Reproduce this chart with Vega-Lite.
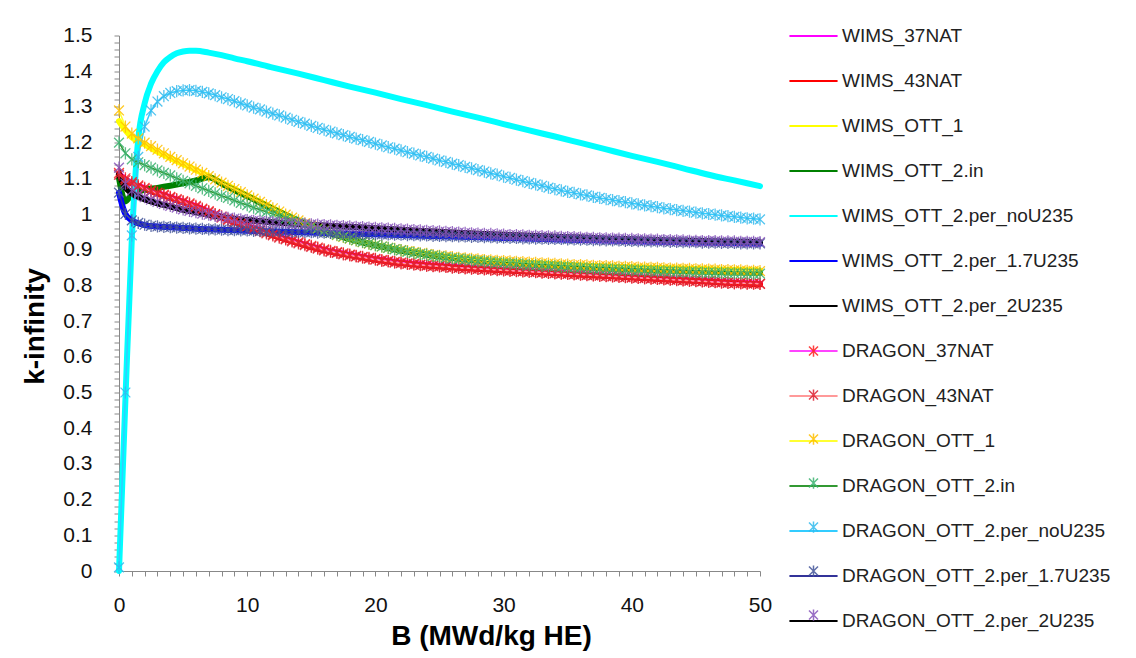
{
"$schema": "https://vega.github.io/schema/vega-lite/v6.json",
"width": 641,
"height": 535.5,
"autosize": {"type": "none"},
"padding": {"left": 119, "top": 35.5, "right": 376, "bottom": 87},
"background": "white",
"config": {"view": {"stroke": null}, "font": "Liberation Sans"},
"datasets": {
"names": [
{"s":"W37","name":"WIMS_37NAT","mk":"WIMS_37NAT"},
{"s":"W43","name":"WIMS_43NAT","mk":"WIMS_43NAT"},
{"s":"WY","name":"WIMS_OTT_1","mk":"WIMS_OTT_1"},
{"s":"WG","name":"WIMS_OTT_2.in","mk":"WIMS_OTT_2.in"},
{"s":"WC","name":"WIMS_OTT_2.per_noU235","mk":"WIMS_OTT_2.per_noU235"},
{"s":"WB","name":"WIMS_OTT_2.per_1.7U235","mk":"WIMS_OTT_2.per_1.7U235"},
{"s":"WK","name":"WIMS_OTT_2.per_2U235","mk":"WIMS_OTT_2.per_2U235"},
{"s":"D37","name":"DRAGON_37NAT","mk":"DRAGON_37NAT"},
{"s":"D43","name":"DRAGON_43NAT","mk":"DRAGON_43NAT"},
{"s":"DY","name":"DRAGON_OTT_1","mk":"DRAGON_OTT_1"},
{"s":"DG","name":"DRAGON_OTT_2.in","mk":"DRAGON_OTT_2.in"},
{"s":"DC","name":"DRAGON_OTT_2.per_noU235","mk":"DRAGON_OTT_2.per_noU235"},
{"s":"DB","name":"DRAGON_OTT_2.per_1.7U235","mk":"DRAGON_OTT_2.per_1.7U235"},
{"s":"DP","name":"DRAGON_OTT_2.per_2U235","mk":"DRAGON_OTT_2.per_2U235"}
],
"d": [
{"s":"W37","x":0,"y":1.112},{"s":"W37","x":0.5,"y":1.097},{"s":"W37","x":1,"y":1.087},{"s":"W37","x":2,"y":1.072},{"s":"W37","x":3,"y":1.059},{"s":"W37","x":4,"y":1.047},{"s":"W37","x":5,"y":1.035},{"s":"W37","x":6,"y":1.022},{"s":"W37","x":7,"y":1.007},{"s":"W37","x":8,"y":0.992},{"s":"W37","x":9,"y":0.979},{"s":"W37","x":10,"y":0.967},{"s":"W37","x":12,"y":0.942},{"s":"W37","x":14,"y":0.92},{"s":"W37","x":16,"y":0.9},{"s":"W37","x":18,"y":0.886},{"s":"W37","x":20,"y":0.874},{"s":"W37","x":22,"y":0.864},{"s":"W37","x":24,"y":0.857},{"s":"W37","x":26,"y":0.852},{"s":"W37","x":28,"y":0.848},{"s":"W37","x":30,"y":0.844},{"s":"W37","x":32,"y":0.84},{"s":"W37","x":34,"y":0.836},{"s":"W37","x":36,"y":0.832},{"s":"W37","x":38,"y":0.828},{"s":"W37","x":40,"y":0.824},{"s":"W37","x":42,"y":0.82},{"s":"W37","x":44,"y":0.816},{"s":"W37","x":46,"y":0.812},{"s":"W37","x":48,"y":0.808},{"s":"W37","x":50,"y":0.805},
{"s":"W43","x":0,"y":1.11},{"s":"W43","x":0.5,"y":1.095},{"s":"W43","x":1,"y":1.085},{"s":"W43","x":2,"y":1.07},{"s":"W43","x":3,"y":1.057},{"s":"W43","x":4,"y":1.045},{"s":"W43","x":5,"y":1.033},{"s":"W43","x":6,"y":1.02},{"s":"W43","x":7,"y":1.005},{"s":"W43","x":8,"y":0.99},{"s":"W43","x":9,"y":0.977},{"s":"W43","x":10,"y":0.965},{"s":"W43","x":12,"y":0.94},{"s":"W43","x":14,"y":0.918},{"s":"W43","x":16,"y":0.898},{"s":"W43","x":18,"y":0.884},{"s":"W43","x":20,"y":0.872},{"s":"W43","x":22,"y":0.862},{"s":"W43","x":24,"y":0.855},{"s":"W43","x":26,"y":0.85},{"s":"W43","x":28,"y":0.846},{"s":"W43","x":30,"y":0.842},{"s":"W43","x":32,"y":0.838},{"s":"W43","x":34,"y":0.834},{"s":"W43","x":36,"y":0.83},{"s":"W43","x":38,"y":0.826},{"s":"W43","x":40,"y":0.822},{"s":"W43","x":42,"y":0.818},{"s":"W43","x":44,"y":0.814},{"s":"W43","x":46,"y":0.81},{"s":"W43","x":48,"y":0.806},{"s":"W43","x":50,"y":0.803},
{"s":"WY","x":0,"y":1.26},{"s":"WY","x":0.5,"y":1.235},{"s":"WY","x":1,"y":1.215},{"s":"WY","x":2,"y":1.195},{"s":"WY","x":3,"y":1.175},{"s":"WY","x":4,"y":1.157},{"s":"WY","x":5,"y":1.14},{"s":"WY","x":6,"y":1.123},{"s":"WY","x":7,"y":1.106},{"s":"WY","x":8,"y":1.088},{"s":"WY","x":9,"y":1.07},{"s":"WY","x":10,"y":1.052},{"s":"WY","x":12,"y":1.016},{"s":"WY","x":14,"y":0.982},{"s":"WY","x":16,"y":0.953},{"s":"WY","x":18,"y":0.931},{"s":"WY","x":20,"y":0.913},{"s":"WY","x":22,"y":0.899},{"s":"WY","x":24,"y":0.888},{"s":"WY","x":26,"y":0.879},{"s":"WY","x":28,"y":0.872},{"s":"WY","x":30,"y":0.867},{"s":"WY","x":32,"y":0.863},{"s":"WY","x":34,"y":0.859},{"s":"WY","x":36,"y":0.856},{"s":"WY","x":38,"y":0.853},{"s":"WY","x":40,"y":0.851},{"s":"WY","x":42,"y":0.849},{"s":"WY","x":44,"y":0.847},{"s":"WY","x":46,"y":0.845},{"s":"WY","x":48,"y":0.843},{"s":"WY","x":50,"y":0.842},
{"s":"WG","x":0,"y":1.1},{"s":"WG","x":0.5,"y":1.035},{"s":"WG","x":1,"y":1.055},{"s":"WG","x":1.5,"y":1.062},{"s":"WG","x":2,"y":1.068},{"s":"WG","x":3,"y":1.073},{"s":"WG","x":4,"y":1.079},{"s":"WG","x":5,"y":1.086},{"s":"WG","x":6,"y":1.094},{"s":"WG","x":7,"y":1.103},{"s":"WG","x":8,"y":1.085},{"s":"WG","x":9,"y":1.067},{"s":"WG","x":10,"y":1.05},{"s":"WG","x":12,"y":1.014},{"s":"WG","x":14,"y":0.981},{"s":"WG","x":16,"y":0.952},{"s":"WG","x":18,"y":0.93},{"s":"WG","x":20,"y":0.912},{"s":"WG","x":22,"y":0.897},{"s":"WG","x":24,"y":0.886},{"s":"WG","x":26,"y":0.877},{"s":"WG","x":28,"y":0.869},{"s":"WG","x":30,"y":0.863},{"s":"WG","x":32,"y":0.858},{"s":"WG","x":34,"y":0.854},{"s":"WG","x":36,"y":0.85},{"s":"WG","x":38,"y":0.847},{"s":"WG","x":40,"y":0.845},{"s":"WG","x":42,"y":0.842},{"s":"WG","x":44,"y":0.84},{"s":"WG","x":46,"y":0.838},{"s":"WG","x":48,"y":0.836},{"s":"WG","x":50,"y":0.835},
{"s":"WC","x":0,"y":0},{"s":"WC","x":0.5,"y":0.48},{"s":"WC","x":1,"y":0.93},{"s":"WC","x":1.5,"y":1.21},{"s":"WC","x":2,"y":1.31},{"s":"WC","x":2.5,"y":1.365},{"s":"WC","x":3,"y":1.4},{"s":"WC","x":3.5,"y":1.425},{"s":"WC","x":4,"y":1.44},{"s":"WC","x":4.5,"y":1.45},{"s":"WC","x":5,"y":1.455},{"s":"WC","x":5.5,"y":1.457},{"s":"WC","x":6,"y":1.457},{"s":"WC","x":7,"y":1.452},{"s":"WC","x":8,"y":1.445},{"s":"WC","x":9,"y":1.436},{"s":"WC","x":10,"y":1.428},{"s":"WC","x":12,"y":1.41},{"s":"WC","x":14,"y":1.393},{"s":"WC","x":16,"y":1.375},{"s":"WC","x":18,"y":1.357},{"s":"WC","x":20,"y":1.34},{"s":"WC","x":22,"y":1.322},{"s":"WC","x":24,"y":1.305},{"s":"WC","x":26,"y":1.287},{"s":"WC","x":28,"y":1.27},{"s":"WC","x":30,"y":1.252},{"s":"WC","x":32,"y":1.234},{"s":"WC","x":34,"y":1.217},{"s":"WC","x":36,"y":1.199},{"s":"WC","x":38,"y":1.181},{"s":"WC","x":40,"y":1.163},{"s":"WC","x":42,"y":1.146},{"s":"WC","x":44,"y":1.128},{"s":"WC","x":46,"y":1.11},{"s":"WC","x":48,"y":1.094},{"s":"WC","x":50,"y":1.078},
{"s":"WB","x":0,"y":1.06},{"s":"WB","x":0.25,"y":1.025},{"s":"WB","x":0.5,"y":1.0},{"s":"WB","x":1,"y":0.982},{"s":"WB","x":1.5,"y":0.974},{"s":"WB","x":2,"y":0.969},{"s":"WB","x":3,"y":0.965},{"s":"WB","x":4,"y":0.963},{"s":"WB","x":5,"y":0.961},{"s":"WB","x":6,"y":0.959},{"s":"WB","x":7,"y":0.957},{"s":"WB","x":8,"y":0.956},{"s":"WB","x":10,"y":0.953},{"s":"WB","x":12,"y":0.951},{"s":"WB","x":14,"y":0.949},{"s":"WB","x":16,"y":0.947},{"s":"WB","x":18,"y":0.945},{"s":"WB","x":20,"y":0.943},{"s":"WB","x":25,"y":0.938},{"s":"WB","x":30,"y":0.933},{"s":"WB","x":35,"y":0.928},{"s":"WB","x":40,"y":0.924},{"s":"WB","x":45,"y":0.92},{"s":"WB","x":50,"y":0.917},
{"s":"WK","x":0,"y":1.11},{"s":"WK","x":0.5,"y":1.075},{"s":"WK","x":1,"y":1.058},{"s":"WK","x":1.5,"y":1.048},{"s":"WK","x":2,"y":1.041},{"s":"WK","x":3,"y":1.03},{"s":"WK","x":4,"y":1.021},{"s":"WK","x":5,"y":1.012},{"s":"WK","x":6,"y":1.005},{"s":"WK","x":7,"y":0.998},{"s":"WK","x":8,"y":0.992},{"s":"WK","x":9,"y":0.987},{"s":"WK","x":10,"y":0.983},{"s":"WK","x":12,"y":0.977},{"s":"WK","x":14,"y":0.972},{"s":"WK","x":16,"y":0.968},{"s":"WK","x":18,"y":0.964},{"s":"WK","x":20,"y":0.96},{"s":"WK","x":22,"y":0.956},{"s":"WK","x":24,"y":0.952},{"s":"WK","x":26,"y":0.948},{"s":"WK","x":28,"y":0.945},{"s":"WK","x":30,"y":0.942},{"s":"WK","x":32,"y":0.939},{"s":"WK","x":34,"y":0.936},{"s":"WK","x":36,"y":0.934},{"s":"WK","x":38,"y":0.931},{"s":"WK","x":40,"y":0.929},{"s":"WK","x":42,"y":0.927},{"s":"WK","x":44,"y":0.925},{"s":"WK","x":46,"y":0.924},{"s":"WK","x":48,"y":0.922},{"s":"WK","x":50,"y":0.921},
{"s":"D37","x":0,"y":1.115},{"s":"D37","x":0.5,"y":1.1},{"s":"D37","x":1,"y":1.089},{"s":"D37","x":1.5,"y":1.08},{"s":"D37","x":2,"y":1.073},{"s":"D37","x":2.5,"y":1.066},{"s":"D37","x":3,"y":1.06},{"s":"D37","x":3.5,"y":1.054},{"s":"D37","x":4,"y":1.048},{"s":"D37","x":4.5,"y":1.042},{"s":"D37","x":5,"y":1.036},{"s":"D37","x":5.5,"y":1.03},{"s":"D37","x":6,"y":1.023},{"s":"D37","x":6.5,"y":1.015},{"s":"D37","x":7,"y":1.008},{"s":"D37","x":7.5,"y":1.0},{"s":"D37","x":8,"y":0.993},{"s":"D37","x":8.5,"y":0.986},{"s":"D37","x":9,"y":0.98},{"s":"D37","x":9.5,"y":0.974},{"s":"D37","x":10,"y":0.967},{"s":"D37","x":10.5,"y":0.961},{"s":"D37","x":11,"y":0.955},{"s":"D37","x":11.5,"y":0.949},{"s":"D37","x":12,"y":0.943},{"s":"D37","x":12.5,"y":0.937},{"s":"D37","x":13,"y":0.931},{"s":"D37","x":13.5,"y":0.926},{"s":"D37","x":14,"y":0.921},{"s":"D37","x":14.5,"y":0.916},{"s":"D37","x":15,"y":0.911},{"s":"D37","x":15.5,"y":0.906},{"s":"D37","x":16,"y":0.901},{"s":"D37","x":16.5,"y":0.897},{"s":"D37","x":17,"y":0.893},{"s":"D37","x":17.5,"y":0.89},{"s":"D37","x":18,"y":0.886},{"s":"D37","x":18.5,"y":0.883},{"s":"D37","x":19,"y":0.88},{"s":"D37","x":19.5,"y":0.877},{"s":"D37","x":20,"y":0.874},{"s":"D37","x":20.5,"y":0.871},{"s":"D37","x":21,"y":0.869},{"s":"D37","x":21.5,"y":0.866},{"s":"D37","x":22,"y":0.864},{"s":"D37","x":22.5,"y":0.862},{"s":"D37","x":23,"y":0.86},{"s":"D37","x":23.5,"y":0.858},{"s":"D37","x":24,"y":0.857},{"s":"D37","x":24.5,"y":0.855},{"s":"D37","x":25,"y":0.854},{"s":"D37","x":25.5,"y":0.853},{"s":"D37","x":26,"y":0.851},{"s":"D37","x":26.5,"y":0.85},{"s":"D37","x":27,"y":0.849},{"s":"D37","x":27.5,"y":0.848},{"s":"D37","x":28,"y":0.847},{"s":"D37","x":28.5,"y":0.846},{"s":"D37","x":29,"y":0.845},{"s":"D37","x":29.5,"y":0.844},{"s":"D37","x":30,"y":0.843},{"s":"D37","x":30.5,"y":0.842},{"s":"D37","x":31,"y":0.841},{"s":"D37","x":31.5,"y":0.84},{"s":"D37","x":32,"y":0.839},{"s":"D37","x":32.5,"y":0.838},{"s":"D37","x":33,"y":0.837},{"s":"D37","x":33.5,"y":0.836},{"s":"D37","x":34,"y":0.835},{"s":"D37","x":34.5,"y":0.834},{"s":"D37","x":35,"y":0.833},{"s":"D37","x":35.5,"y":0.832},{"s":"D37","x":36,"y":0.831},{"s":"D37","x":36.5,"y":0.83},{"s":"D37","x":37,"y":0.829},{"s":"D37","x":37.5,"y":0.828},{"s":"D37","x":38,"y":0.827},{"s":"D37","x":38.5,"y":0.826},{"s":"D37","x":39,"y":0.825},{"s":"D37","x":39.5,"y":0.824},{"s":"D37","x":40,"y":0.823},{"s":"D37","x":40.5,"y":0.822},{"s":"D37","x":41,"y":0.821},{"s":"D37","x":41.5,"y":0.82},{"s":"D37","x":42,"y":0.819},{"s":"D37","x":42.5,"y":0.818},{"s":"D37","x":43,"y":0.817},{"s":"D37","x":43.5,"y":0.816},{"s":"D37","x":44,"y":0.815},{"s":"D37","x":44.5,"y":0.814},{"s":"D37","x":45,"y":0.813},{"s":"D37","x":45.5,"y":0.812},{"s":"D37","x":46,"y":0.811},{"s":"D37","x":46.5,"y":0.81},{"s":"D37","x":47,"y":0.809},{"s":"D37","x":47.5,"y":0.808},{"s":"D37","x":48,"y":0.807},{"s":"D37","x":48.5,"y":0.807},{"s":"D37","x":49,"y":0.806},{"s":"D37","x":49.5,"y":0.806},{"s":"D37","x":50,"y":0.805},
{"s":"D43","x":0,"y":1.11},{"s":"D43","x":0.5,"y":1.095},{"s":"D43","x":1,"y":1.085},{"s":"D43","x":1.5,"y":1.077},{"s":"D43","x":2,"y":1.07},{"s":"D43","x":2.5,"y":1.063},{"s":"D43","x":3,"y":1.057},{"s":"D43","x":3.5,"y":1.051},{"s":"D43","x":4,"y":1.045},{"s":"D43","x":4.5,"y":1.039},{"s":"D43","x":5,"y":1.033},{"s":"D43","x":5.5,"y":1.027},{"s":"D43","x":6,"y":1.02},{"s":"D43","x":6.5,"y":1.012},{"s":"D43","x":7,"y":1.005},{"s":"D43","x":7.5,"y":0.998},{"s":"D43","x":8,"y":0.99},{"s":"D43","x":8.5,"y":0.983},{"s":"D43","x":9,"y":0.977},{"s":"D43","x":9.5,"y":0.971},{"s":"D43","x":10,"y":0.965},{"s":"D43","x":10.5,"y":0.958},{"s":"D43","x":11,"y":0.952},{"s":"D43","x":11.5,"y":0.946},{"s":"D43","x":12,"y":0.94},{"s":"D43","x":12.5,"y":0.934},{"s":"D43","x":13,"y":0.929},{"s":"D43","x":13.5,"y":0.923},{"s":"D43","x":14,"y":0.918},{"s":"D43","x":14.5,"y":0.913},{"s":"D43","x":15,"y":0.908},{"s":"D43","x":15.5,"y":0.903},{"s":"D43","x":16,"y":0.898},{"s":"D43","x":16.5,"y":0.894},{"s":"D43","x":17,"y":0.891},{"s":"D43","x":17.5,"y":0.887},{"s":"D43","x":18,"y":0.884},{"s":"D43","x":18.5,"y":0.881},{"s":"D43","x":19,"y":0.878},{"s":"D43","x":19.5,"y":0.875},{"s":"D43","x":20,"y":0.872},{"s":"D43","x":20.5,"y":0.869},{"s":"D43","x":21,"y":0.867},{"s":"D43","x":21.5,"y":0.864},{"s":"D43","x":22,"y":0.862},{"s":"D43","x":22.5,"y":0.86},{"s":"D43","x":23,"y":0.858},{"s":"D43","x":23.5,"y":0.857},{"s":"D43","x":24,"y":0.855},{"s":"D43","x":24.5,"y":0.854},{"s":"D43","x":25,"y":0.853},{"s":"D43","x":25.5,"y":0.852},{"s":"D43","x":26,"y":0.85},{"s":"D43","x":26.5,"y":0.849},{"s":"D43","x":27,"y":0.848},{"s":"D43","x":27.5,"y":0.847},{"s":"D43","x":28,"y":0.846},{"s":"D43","x":28.5,"y":0.845},{"s":"D43","x":29,"y":0.844},{"s":"D43","x":29.5,"y":0.843},{"s":"D43","x":30,"y":0.842},{"s":"D43","x":30.5,"y":0.841},{"s":"D43","x":31,"y":0.84},{"s":"D43","x":31.5,"y":0.839},{"s":"D43","x":32,"y":0.838},{"s":"D43","x":32.5,"y":0.837},{"s":"D43","x":33,"y":0.836},{"s":"D43","x":33.5,"y":0.835},{"s":"D43","x":34,"y":0.834},{"s":"D43","x":34.5,"y":0.833},{"s":"D43","x":35,"y":0.832},{"s":"D43","x":35.5,"y":0.831},{"s":"D43","x":36,"y":0.83},{"s":"D43","x":36.5,"y":0.829},{"s":"D43","x":37,"y":0.828},{"s":"D43","x":37.5,"y":0.827},{"s":"D43","x":38,"y":0.826},{"s":"D43","x":38.5,"y":0.825},{"s":"D43","x":39,"y":0.824},{"s":"D43","x":39.5,"y":0.823},{"s":"D43","x":40,"y":0.822},{"s":"D43","x":40.5,"y":0.821},{"s":"D43","x":41,"y":0.82},{"s":"D43","x":41.5,"y":0.819},{"s":"D43","x":42,"y":0.818},{"s":"D43","x":42.5,"y":0.817},{"s":"D43","x":43,"y":0.816},{"s":"D43","x":43.5,"y":0.815},{"s":"D43","x":44,"y":0.814},{"s":"D43","x":44.5,"y":0.813},{"s":"D43","x":45,"y":0.812},{"s":"D43","x":45.5,"y":0.811},{"s":"D43","x":46,"y":0.81},{"s":"D43","x":46.5,"y":0.809},{"s":"D43","x":47,"y":0.808},{"s":"D43","x":47.5,"y":0.807},{"s":"D43","x":48,"y":0.806},{"s":"D43","x":48.5,"y":0.806},{"s":"D43","x":49,"y":0.805},{"s":"D43","x":49.5,"y":0.805},{"s":"D43","x":50,"y":0.804},
{"s":"DY","x":0,"y":1.29},{"s":"DY","x":0.5,"y":1.245},{"s":"DY","x":1,"y":1.225},{"s":"DY","x":1.5,"y":1.212},{"s":"DY","x":2,"y":1.2},{"s":"DY","x":2.5,"y":1.19},{"s":"DY","x":3,"y":1.18},{"s":"DY","x":3.5,"y":1.17},{"s":"DY","x":4,"y":1.16},{"s":"DY","x":4.5,"y":1.151},{"s":"DY","x":5,"y":1.142},{"s":"DY","x":5.5,"y":1.133},{"s":"DY","x":6,"y":1.124},{"s":"DY","x":6.5,"y":1.115},{"s":"DY","x":7,"y":1.106},{"s":"DY","x":7.5,"y":1.097},{"s":"DY","x":8,"y":1.088},{"s":"DY","x":8.5,"y":1.079},{"s":"DY","x":9,"y":1.07},{"s":"DY","x":9.5,"y":1.061},{"s":"DY","x":10,"y":1.052},{"s":"DY","x":10.5,"y":1.043},{"s":"DY","x":11,"y":1.034},{"s":"DY","x":11.5,"y":1.025},{"s":"DY","x":12,"y":1.016},{"s":"DY","x":12.5,"y":1.007},{"s":"DY","x":13,"y":0.998},{"s":"DY","x":13.5,"y":0.99},{"s":"DY","x":14,"y":0.982},{"s":"DY","x":14.5,"y":0.974},{"s":"DY","x":15,"y":0.967},{"s":"DY","x":15.5,"y":0.96},{"s":"DY","x":16,"y":0.953},{"s":"DY","x":16.5,"y":0.947},{"s":"DY","x":17,"y":0.941},{"s":"DY","x":17.5,"y":0.936},{"s":"DY","x":18,"y":0.931},{"s":"DY","x":18.5,"y":0.926},{"s":"DY","x":19,"y":0.921},{"s":"DY","x":19.5,"y":0.917},{"s":"DY","x":20,"y":0.913},{"s":"DY","x":20.5,"y":0.909},{"s":"DY","x":21,"y":0.905},{"s":"DY","x":21.5,"y":0.902},{"s":"DY","x":22,"y":0.899},{"s":"DY","x":22.5,"y":0.896},{"s":"DY","x":23,"y":0.893},{"s":"DY","x":23.5,"y":0.89},{"s":"DY","x":24,"y":0.888},{"s":"DY","x":24.5,"y":0.885},{"s":"DY","x":25,"y":0.883},{"s":"DY","x":25.5,"y":0.881},{"s":"DY","x":26,"y":0.879},{"s":"DY","x":26.5,"y":0.877},{"s":"DY","x":27,"y":0.876},{"s":"DY","x":27.5,"y":0.874},{"s":"DY","x":28,"y":0.873},{"s":"DY","x":28.5,"y":0.871},{"s":"DY","x":29,"y":0.87},{"s":"DY","x":29.5,"y":0.869},{"s":"DY","x":30,"y":0.868},{"s":"DY","x":30.5,"y":0.867},{"s":"DY","x":31,"y":0.866},{"s":"DY","x":31.5,"y":0.865},{"s":"DY","x":32,"y":0.864},{"s":"DY","x":32.5,"y":0.863},{"s":"DY","x":33,"y":0.862},{"s":"DY","x":33.5,"y":0.861},{"s":"DY","x":34,"y":0.86},{"s":"DY","x":34.5,"y":0.859},{"s":"DY","x":35,"y":0.858},{"s":"DY","x":35.5,"y":0.857},{"s":"DY","x":36,"y":0.857},{"s":"DY","x":36.5,"y":0.856},{"s":"DY","x":37,"y":0.855},{"s":"DY","x":37.5,"y":0.854},{"s":"DY","x":38,"y":0.854},{"s":"DY","x":38.5,"y":0.853},{"s":"DY","x":39,"y":0.852},{"s":"DY","x":39.5,"y":0.852},{"s":"DY","x":40,"y":0.851},{"s":"DY","x":40.5,"y":0.85},{"s":"DY","x":41,"y":0.85},{"s":"DY","x":41.5,"y":0.849},{"s":"DY","x":42,"y":0.849},{"s":"DY","x":42.5,"y":0.848},{"s":"DY","x":43,"y":0.847},{"s":"DY","x":43.5,"y":0.847},{"s":"DY","x":44,"y":0.846},{"s":"DY","x":44.5,"y":0.846},{"s":"DY","x":45,"y":0.845},{"s":"DY","x":45.5,"y":0.845},{"s":"DY","x":46,"y":0.844},{"s":"DY","x":46.5,"y":0.844},{"s":"DY","x":47,"y":0.843},{"s":"DY","x":47.5,"y":0.843},{"s":"DY","x":48,"y":0.842},{"s":"DY","x":48.5,"y":0.842},{"s":"DY","x":49,"y":0.841},{"s":"DY","x":49.5,"y":0.841},{"s":"DY","x":50,"y":0.84},
{"s":"DG","x":0,"y":1.2},{"s":"DG","x":0.5,"y":1.17},{"s":"DG","x":1,"y":1.153},{"s":"DG","x":1.5,"y":1.145},{"s":"DG","x":2,"y":1.137},{"s":"DG","x":2.5,"y":1.13},{"s":"DG","x":3,"y":1.122},{"s":"DG","x":3.5,"y":1.115},{"s":"DG","x":4,"y":1.108},{"s":"DG","x":4.5,"y":1.1},{"s":"DG","x":5,"y":1.093},{"s":"DG","x":5.5,"y":1.086},{"s":"DG","x":6,"y":1.079},{"s":"DG","x":6.5,"y":1.072},{"s":"DG","x":7,"y":1.065},{"s":"DG","x":7.5,"y":1.058},{"s":"DG","x":8,"y":1.051},{"s":"DG","x":8.5,"y":1.045},{"s":"DG","x":9,"y":1.038},{"s":"DG","x":9.5,"y":1.031},{"s":"DG","x":10,"y":1.025},{"s":"DG","x":10.5,"y":1.018},{"s":"DG","x":11,"y":1.012},{"s":"DG","x":11.5,"y":1.006},{"s":"DG","x":12,"y":1.0},{"s":"DG","x":12.5,"y":0.993},{"s":"DG","x":13,"y":0.987},{"s":"DG","x":13.5,"y":0.981},{"s":"DG","x":14,"y":0.975},{"s":"DG","x":14.5,"y":0.969},{"s":"DG","x":15,"y":0.963},{"s":"DG","x":15.5,"y":0.958},{"s":"DG","x":16,"y":0.952},{"s":"DG","x":16.5,"y":0.947},{"s":"DG","x":17,"y":0.942},{"s":"DG","x":17.5,"y":0.937},{"s":"DG","x":18,"y":0.932},{"s":"DG","x":18.5,"y":0.927},{"s":"DG","x":19,"y":0.922},{"s":"DG","x":19.5,"y":0.918},{"s":"DG","x":20,"y":0.913},{"s":"DG","x":20.5,"y":0.909},{"s":"DG","x":21,"y":0.905},{"s":"DG","x":21.5,"y":0.901},{"s":"DG","x":22,"y":0.898},{"s":"DG","x":22.5,"y":0.894},{"s":"DG","x":23,"y":0.891},{"s":"DG","x":23.5,"y":0.888},{"s":"DG","x":24,"y":0.886},{"s":"DG","x":24.5,"y":0.883},{"s":"DG","x":25,"y":0.881},{"s":"DG","x":25.5,"y":0.878},{"s":"DG","x":26,"y":0.876},{"s":"DG","x":26.5,"y":0.874},{"s":"DG","x":27,"y":0.872},{"s":"DG","x":27.5,"y":0.87},{"s":"DG","x":28,"y":0.868},{"s":"DG","x":28.5,"y":0.867},{"s":"DG","x":29,"y":0.865},{"s":"DG","x":29.5,"y":0.864},{"s":"DG","x":30,"y":0.862},{"s":"DG","x":30.5,"y":0.861},{"s":"DG","x":31,"y":0.86},{"s":"DG","x":31.5,"y":0.858},{"s":"DG","x":32,"y":0.857},{"s":"DG","x":32.5,"y":0.856},{"s":"DG","x":33,"y":0.855},{"s":"DG","x":33.5,"y":0.854},{"s":"DG","x":34,"y":0.853},{"s":"DG","x":34.5,"y":0.852},{"s":"DG","x":35,"y":0.851},{"s":"DG","x":35.5,"y":0.85},{"s":"DG","x":36,"y":0.849},{"s":"DG","x":36.5,"y":0.848},{"s":"DG","x":37,"y":0.847},{"s":"DG","x":37.5,"y":0.846},{"s":"DG","x":38,"y":0.846},{"s":"DG","x":38.5,"y":0.845},{"s":"DG","x":39,"y":0.844},{"s":"DG","x":39.5,"y":0.843},{"s":"DG","x":40,"y":0.843},{"s":"DG","x":40.5,"y":0.842},{"s":"DG","x":41,"y":0.841},{"s":"DG","x":41.5,"y":0.841},{"s":"DG","x":42,"y":0.84},{"s":"DG","x":42.5,"y":0.839},{"s":"DG","x":43,"y":0.839},{"s":"DG","x":43.5,"y":0.838},{"s":"DG","x":44,"y":0.838},{"s":"DG","x":44.5,"y":0.837},{"s":"DG","x":45,"y":0.837},{"s":"DG","x":45.5,"y":0.836},{"s":"DG","x":46,"y":0.836},{"s":"DG","x":46.5,"y":0.835},{"s":"DG","x":47,"y":0.835},{"s":"DG","x":47.5,"y":0.834},{"s":"DG","x":48,"y":0.834},{"s":"DG","x":48.5,"y":0.834},{"s":"DG","x":49,"y":0.833},{"s":"DG","x":49.5,"y":0.833},{"s":"DG","x":50,"y":0.833},
{"s":"DC","x":0,"y":0.01},{"s":"DC","x":0.5,"y":0.5},{"s":"DC","x":1,"y":0.94},{"s":"DC","x":1.5,"y":1.16},{"s":"DC","x":2,"y":1.245},{"s":"DC","x":2.5,"y":1.29},{"s":"DC","x":3,"y":1.315},{"s":"DC","x":3.5,"y":1.33},{"s":"DC","x":4,"y":1.339},{"s":"DC","x":4.5,"y":1.344},{"s":"DC","x":5,"y":1.346},{"s":"DC","x":5.5,"y":1.347},{"s":"DC","x":6,"y":1.345},{"s":"DC","x":6.5,"y":1.342},{"s":"DC","x":7,"y":1.338},{"s":"DC","x":7.5,"y":1.333},{"s":"DC","x":8,"y":1.327},{"s":"DC","x":8.5,"y":1.322},{"s":"DC","x":9,"y":1.316},{"s":"DC","x":9.5,"y":1.31},{"s":"DC","x":10,"y":1.304},{"s":"DC","x":10.5,"y":1.298},{"s":"DC","x":11,"y":1.293},{"s":"DC","x":11.5,"y":1.287},{"s":"DC","x":12,"y":1.281},{"s":"DC","x":12.5,"y":1.276},{"s":"DC","x":13,"y":1.27},{"s":"DC","x":13.5,"y":1.264},{"s":"DC","x":14,"y":1.258},{"s":"DC","x":14.5,"y":1.253},{"s":"DC","x":15,"y":1.247},{"s":"DC","x":15.5,"y":1.241},{"s":"DC","x":16,"y":1.236},{"s":"DC","x":16.5,"y":1.231},{"s":"DC","x":17,"y":1.226},{"s":"DC","x":17.5,"y":1.221},{"s":"DC","x":18,"y":1.216},{"s":"DC","x":18.5,"y":1.211},{"s":"DC","x":19,"y":1.207},{"s":"DC","x":19.5,"y":1.202},{"s":"DC","x":20,"y":1.197},{"s":"DC","x":20.5,"y":1.192},{"s":"DC","x":21,"y":1.187},{"s":"DC","x":21.5,"y":1.183},{"s":"DC","x":22,"y":1.178},{"s":"DC","x":22.5,"y":1.173},{"s":"DC","x":23,"y":1.169},{"s":"DC","x":23.5,"y":1.164},{"s":"DC","x":24,"y":1.16},{"s":"DC","x":24.5,"y":1.155},{"s":"DC","x":25,"y":1.15},{"s":"DC","x":25.5,"y":1.146},{"s":"DC","x":26,"y":1.141},{"s":"DC","x":26.5,"y":1.137},{"s":"DC","x":27,"y":1.132},{"s":"DC","x":27.5,"y":1.128},{"s":"DC","x":28,"y":1.123},{"s":"DC","x":28.5,"y":1.119},{"s":"DC","x":29,"y":1.114},{"s":"DC","x":29.5,"y":1.11},{"s":"DC","x":30,"y":1.105},{"s":"DC","x":30.5,"y":1.101},{"s":"DC","x":31,"y":1.096},{"s":"DC","x":31.5,"y":1.092},{"s":"DC","x":32,"y":1.087},{"s":"DC","x":32.5,"y":1.083},{"s":"DC","x":33,"y":1.079},{"s":"DC","x":33.5,"y":1.074},{"s":"DC","x":34,"y":1.07},{"s":"DC","x":34.5,"y":1.066},{"s":"DC","x":35,"y":1.062},{"s":"DC","x":35.5,"y":1.059},{"s":"DC","x":36,"y":1.055},{"s":"DC","x":36.5,"y":1.052},{"s":"DC","x":37,"y":1.048},{"s":"DC","x":37.5,"y":1.045},{"s":"DC","x":38,"y":1.042},{"s":"DC","x":38.5,"y":1.039},{"s":"DC","x":39,"y":1.036},{"s":"DC","x":39.5,"y":1.033},{"s":"DC","x":40,"y":1.03},{"s":"DC","x":40.5,"y":1.027},{"s":"DC","x":41,"y":1.024},{"s":"DC","x":41.5,"y":1.022},{"s":"DC","x":42,"y":1.019},{"s":"DC","x":42.5,"y":1.016},{"s":"DC","x":43,"y":1.014},{"s":"DC","x":43.5,"y":1.011},{"s":"DC","x":44,"y":1.009},{"s":"DC","x":44.5,"y":1.007},{"s":"DC","x":45,"y":1.004},{"s":"DC","x":45.5,"y":1.002},{"s":"DC","x":46,"y":1.0},{"s":"DC","x":46.5,"y":0.998},{"s":"DC","x":47,"y":0.996},{"s":"DC","x":47.5,"y":0.994},{"s":"DC","x":48,"y":0.992},{"s":"DC","x":48.5,"y":0.99},{"s":"DC","x":49,"y":0.988},{"s":"DC","x":49.5,"y":0.987},{"s":"DC","x":50,"y":0.985},
{"s":"DB","x":0,"y":1.06},{"s":"DB","x":0.5,"y":1.0},{"s":"DB","x":1,"y":0.982},{"s":"DB","x":1.5,"y":0.975},{"s":"DB","x":2,"y":0.97},{"s":"DB","x":2.5,"y":0.967},{"s":"DB","x":3,"y":0.965},{"s":"DB","x":3.5,"y":0.964},{"s":"DB","x":4,"y":0.963},{"s":"DB","x":4.5,"y":0.962},{"s":"DB","x":5,"y":0.961},{"s":"DB","x":5.5,"y":0.96},{"s":"DB","x":6,"y":0.959},{"s":"DB","x":6.5,"y":0.958},{"s":"DB","x":7,"y":0.957},{"s":"DB","x":7.5,"y":0.957},{"s":"DB","x":8,"y":0.956},{"s":"DB","x":8.5,"y":0.955},{"s":"DB","x":9,"y":0.955},{"s":"DB","x":9.5,"y":0.954},{"s":"DB","x":10,"y":0.954},{"s":"DB","x":10.5,"y":0.953},{"s":"DB","x":11,"y":0.953},{"s":"DB","x":11.5,"y":0.952},{"s":"DB","x":12,"y":0.952},{"s":"DB","x":12.5,"y":0.951},{"s":"DB","x":13,"y":0.951},{"s":"DB","x":13.5,"y":0.95},{"s":"DB","x":14,"y":0.95},{"s":"DB","x":14.5,"y":0.949},{"s":"DB","x":15,"y":0.949},{"s":"DB","x":15.5,"y":0.948},{"s":"DB","x":16,"y":0.948},{"s":"DB","x":16.5,"y":0.947},{"s":"DB","x":17,"y":0.947},{"s":"DB","x":17.5,"y":0.946},{"s":"DB","x":18,"y":0.946},{"s":"DB","x":18.5,"y":0.945},{"s":"DB","x":19,"y":0.945},{"s":"DB","x":19.5,"y":0.944},{"s":"DB","x":20,"y":0.944},{"s":"DB","x":20.5,"y":0.943},{"s":"DB","x":21,"y":0.943},{"s":"DB","x":21.5,"y":0.942},{"s":"DB","x":22,"y":0.942},{"s":"DB","x":22.5,"y":0.941},{"s":"DB","x":23,"y":0.941},{"s":"DB","x":23.5,"y":0.94},{"s":"DB","x":24,"y":0.94},{"s":"DB","x":24.5,"y":0.939},{"s":"DB","x":25,"y":0.939},{"s":"DB","x":25.5,"y":0.938},{"s":"DB","x":26,"y":0.938},{"s":"DB","x":26.5,"y":0.937},{"s":"DB","x":27,"y":0.937},{"s":"DB","x":27.5,"y":0.936},{"s":"DB","x":28,"y":0.936},{"s":"DB","x":28.5,"y":0.935},{"s":"DB","x":29,"y":0.935},{"s":"DB","x":29.5,"y":0.934},{"s":"DB","x":30,"y":0.934},{"s":"DB","x":30.5,"y":0.933},{"s":"DB","x":31,"y":0.933},{"s":"DB","x":31.5,"y":0.932},{"s":"DB","x":32,"y":0.932},{"s":"DB","x":32.5,"y":0.931},{"s":"DB","x":33,"y":0.931},{"s":"DB","x":33.5,"y":0.93},{"s":"DB","x":34,"y":0.93},{"s":"DB","x":34.5,"y":0.93},{"s":"DB","x":35,"y":0.929},{"s":"DB","x":35.5,"y":0.929},{"s":"DB","x":36,"y":0.928},{"s":"DB","x":36.5,"y":0.928},{"s":"DB","x":37,"y":0.927},{"s":"DB","x":37.5,"y":0.927},{"s":"DB","x":38,"y":0.926},{"s":"DB","x":38.5,"y":0.926},{"s":"DB","x":39,"y":0.926},{"s":"DB","x":39.5,"y":0.925},{"s":"DB","x":40,"y":0.925},{"s":"DB","x":40.5,"y":0.924},{"s":"DB","x":41,"y":0.924},{"s":"DB","x":41.5,"y":0.923},{"s":"DB","x":42,"y":0.923},{"s":"DB","x":42.5,"y":0.923},{"s":"DB","x":43,"y":0.922},{"s":"DB","x":43.5,"y":0.922},{"s":"DB","x":44,"y":0.921},{"s":"DB","x":44.5,"y":0.921},{"s":"DB","x":45,"y":0.921},{"s":"DB","x":45.5,"y":0.92},{"s":"DB","x":46,"y":0.92},{"s":"DB","x":46.5,"y":0.92},{"s":"DB","x":47,"y":0.919},{"s":"DB","x":47.5,"y":0.919},{"s":"DB","x":48,"y":0.919},{"s":"DB","x":48.5,"y":0.918},{"s":"DB","x":49,"y":0.918},{"s":"DB","x":49.5,"y":0.918},{"s":"DB","x":50,"y":0.918},
{"s":"DP","x":0,"y":1.13},{"s":"DP","x":0.5,"y":1.085},{"s":"DP","x":1,"y":1.065},{"s":"DP","x":1.5,"y":1.055},{"s":"DP","x":2,"y":1.047},{"s":"DP","x":2.5,"y":1.04},{"s":"DP","x":3,"y":1.034},{"s":"DP","x":3.5,"y":1.028},{"s":"DP","x":4,"y":1.023},{"s":"DP","x":4.5,"y":1.018},{"s":"DP","x":5,"y":1.013},{"s":"DP","x":5.5,"y":1.009},{"s":"DP","x":6,"y":1.005},{"s":"DP","x":6.5,"y":1.001},{"s":"DP","x":7,"y":0.998},{"s":"DP","x":7.5,"y":0.995},{"s":"DP","x":8,"y":0.992},{"s":"DP","x":8.5,"y":0.989},{"s":"DP","x":9,"y":0.987},{"s":"DP","x":9.5,"y":0.985},{"s":"DP","x":10,"y":0.983},{"s":"DP","x":10.5,"y":0.981},{"s":"DP","x":11,"y":0.98},{"s":"DP","x":11.5,"y":0.978},{"s":"DP","x":12,"y":0.977},{"s":"DP","x":12.5,"y":0.976},{"s":"DP","x":13,"y":0.975},{"s":"DP","x":13.5,"y":0.974},{"s":"DP","x":14,"y":0.973},{"s":"DP","x":14.5,"y":0.972},{"s":"DP","x":15,"y":0.971},{"s":"DP","x":15.5,"y":0.97},{"s":"DP","x":16,"y":0.969},{"s":"DP","x":16.5,"y":0.968},{"s":"DP","x":17,"y":0.967},{"s":"DP","x":17.5,"y":0.966},{"s":"DP","x":18,"y":0.965},{"s":"DP","x":18.5,"y":0.964},{"s":"DP","x":19,"y":0.963},{"s":"DP","x":19.5,"y":0.962},{"s":"DP","x":20,"y":0.961},{"s":"DP","x":20.5,"y":0.96},{"s":"DP","x":21,"y":0.959},{"s":"DP","x":21.5,"y":0.958},{"s":"DP","x":22,"y":0.957},{"s":"DP","x":22.5,"y":0.956},{"s":"DP","x":23,"y":0.955},{"s":"DP","x":23.5,"y":0.954},{"s":"DP","x":24,"y":0.953},{"s":"DP","x":24.5,"y":0.952},{"s":"DP","x":25,"y":0.951},{"s":"DP","x":25.5,"y":0.95},{"s":"DP","x":26,"y":0.949},{"s":"DP","x":26.5,"y":0.948},{"s":"DP","x":27,"y":0.947},{"s":"DP","x":27.5,"y":0.946},{"s":"DP","x":28,"y":0.945},{"s":"DP","x":28.5,"y":0.944},{"s":"DP","x":29,"y":0.944},{"s":"DP","x":29.5,"y":0.943},{"s":"DP","x":30,"y":0.942},{"s":"DP","x":30.5,"y":0.941},{"s":"DP","x":31,"y":0.941},{"s":"DP","x":31.5,"y":0.94},{"s":"DP","x":32,"y":0.939},{"s":"DP","x":32.5,"y":0.939},{"s":"DP","x":33,"y":0.938},{"s":"DP","x":33.5,"y":0.937},{"s":"DP","x":34,"y":0.937},{"s":"DP","x":34.5,"y":0.936},{"s":"DP","x":35,"y":0.935},{"s":"DP","x":35.5,"y":0.935},{"s":"DP","x":36,"y":0.934},{"s":"DP","x":36.5,"y":0.933},{"s":"DP","x":37,"y":0.933},{"s":"DP","x":37.5,"y":0.932},{"s":"DP","x":38,"y":0.932},{"s":"DP","x":38.5,"y":0.931},{"s":"DP","x":39,"y":0.931},{"s":"DP","x":39.5,"y":0.93},{"s":"DP","x":40,"y":0.93},{"s":"DP","x":40.5,"y":0.929},{"s":"DP","x":41,"y":0.929},{"s":"DP","x":41.5,"y":0.928},{"s":"DP","x":42,"y":0.928},{"s":"DP","x":42.5,"y":0.927},{"s":"DP","x":43,"y":0.927},{"s":"DP","x":43.5,"y":0.926},{"s":"DP","x":44,"y":0.926},{"s":"DP","x":44.5,"y":0.925},{"s":"DP","x":45,"y":0.925},{"s":"DP","x":45.5,"y":0.924},{"s":"DP","x":46,"y":0.924},{"s":"DP","x":46.5,"y":0.924},{"s":"DP","x":47,"y":0.923},{"s":"DP","x":47.5,"y":0.923},{"s":"DP","x":48,"y":0.923},{"s":"DP","x":48.5,"y":0.922},{"s":"DP","x":49,"y":0.922},{"s":"DP","x":49.5,"y":0.922},{"s":"DP","x":50,"y":0.921}
]
},
"data": {"name": "d"},
"transform": [{"lookup": "s", "from": {"data": {"name": "names"}, "key": "s", "fields": ["name", "mk"]}}],
"encoding": {
"x": {"field": "x", "type": "quantitative", "scale": {"domain": [0, 50], "nice": false},
 "axis": {"title": "B (MWd/kg HE)", "values": [0,1,2,3,4,5,6,7,8,9,10,11,12,13,14,15,16,17,18,19,20,21,22,23,24,25,26,27,28,29,30,31,32,33,34,35,36,37,38,39,40,41,42,43,44,45,46,47,48,49,50],
 "labelExpr": "datum.value % 10 == 0 ? datum.label : ''", "grid": false, "domainColor": "#888888", "tickColor": "#888888", "tickSize": 5,
 "labelFontSize": 21, "labelColor": "#111111", "labelPadding": 18, "labelFlush": false, "labelOverlap": false,
 "titleFontSize": 28, "titleFontWeight": "bold", "titleColor": "#000000", "titleX": 372, "titleY": 51, "titleBaseline": "top", "titleAlign": "center"}},
"y": {"field": "y", "type": "quantitative", "scale": {"domain": [0, 1.5], "nice": false},
 "axis": {"title": "k-infinity", "values": [0,0.02,0.04,0.06,0.08,0.1,0.12,0.14,0.16,0.18,0.2,0.22,0.24,0.26,0.28,0.3,0.32,0.34,0.36,0.38,0.4,0.42,0.44,0.46,0.48,0.5,0.52,0.54,0.56,0.58,0.6,0.62,0.64,0.66,0.68,0.7,0.72,0.74,0.76,0.78,0.8,0.82,0.84,0.86,0.88,0.9,0.92,0.94,0.96,0.98,1,1.02,1.04,1.06,1.08,1.1,1.12,1.14,1.16,1.18,1.2,1.22,1.24,1.26,1.28,1.3,1.32,1.34,1.36,1.38,1.4,1.42,1.44,1.46,1.48,1.5],
 "labelExpr": "abs(datum.value*10-round(datum.value*10)) < 0.001 ? format(datum.value, '~g') : ''", "grid": false, "domainColor": "#888888", "tickColor": "#888888", "tickSize": 5,
 "labelFontSize": 21, "labelColor": "#111111", "labelPadding": 22, "labelFlush": false, "labelOverlap": false,
 "titleFontSize": 28, "titleFontWeight": "bold", "titleColor": "#000000", "titleX": -84, "titleY": 290.5, "titleAngle": 270, "titleAlign": "center", "titleBaseline": "middle"}}
},
"layer": [
{"transform": [{"filter": "indexof(datum.s, 'W') == 0"}],
 "mark": {"type": "line", "strokeWidth": 6, "interpolate": "monotone", "strokeCap": "round", "strokeJoin": "round"},
 "encoding": {"color": {"field": "name", "type": "nominal",
   "scale": {"domain": ["WIMS_37NAT","WIMS_43NAT","WIMS_OTT_1","WIMS_OTT_2.in","WIMS_OTT_2.per_noU235","WIMS_OTT_2.per_1.7U235","WIMS_OTT_2.per_2U235","DRAGON_37NAT","DRAGON_43NAT","DRAGON_OTT_1","DRAGON_OTT_2.in","DRAGON_OTT_2.per_noU235","DRAGON_OTT_2.per_1.7U235","DRAGON_OTT_2.per_2U235"],
     "range": ["#FF00FF","#FF0000","#FFFF00","#008000","#00FFFF","#0000FF","#000000","#FF44FF","#FF9999","#FFFF33","#339933","#33CCFF","#333399","#000000"]},
   "legend": {"orient": "none", "legendX": 671, "legendY": -23, "title": null, "symbolType": "M-1.07,0L1.07,0", "symbolSize": 2025, "symbolStrokeWidth": 2, "symbolFillColor": "transparent",
     "labelFont": "Liberation Sans", "labelFontSize": 19, "labelColor": "#222222", "labelOffset": 5, "labelLimit": 400, "rowPadding": 11, "padding": 0,
     "encode": {"symbols": {"update": {"strokeWidth": {"value": 2}, "opacity": {"value": 1}}}}}},
   "order": {"field": "x", "type": "quantitative"}}},
{"transform": [{"filter": "indexof(datum.s, 'D') == 0"}],
 "mark": {"type": "line", "strokeWidth": 1.5},
 "encoding": {"color": {"field": "name", "type": "nominal"}, "order": {"field": "x", "type": "quantitative"}}},
{"transform": [{"filter": "indexof(datum.s, 'D') == 0"}],
 "mark": {"type": "point", "shape": "M-0.8,-0.8L0.8,0.8M-0.8,0.8L0.8,-0.8M0,-1L0,1", "filled": false, "size": 150, "strokeWidth": 1.3, "opacity": 0.85},
 "encoding": {"stroke": {"field": "mk", "type": "nominal",
   "scale": {"domain": ["DRAGON_37NAT","DRAGON_43NAT","DRAGON_OTT_1","DRAGON_OTT_2.in","DRAGON_OTT_2.per_noU235","DRAGON_OTT_2.per_1.7U235","DRAGON_OTT_2.per_2U235"],
     "range": ["#FF2020","#DD2233","#FFC000","#3CB371","#33BBEE","#44559A","#8855BB"]},
   "legend": {"orient": "none", "legendX": 671, "legendY": 292, "title": null, "symbolType": "M-0.2,-0.2L0.2,0.2M-0.2,0.2L0.2,-0.2M0,-0.25L0,0.25", "symbolSize": 2025, "symbolStrokeWidth": 1.5, "symbolFillColor": "transparent",
     "labelExpr": "''", "rowPadding": 11, "padding": 0,
     "encode": {"symbols": {"update": {"opacity": {"value": 1}}}}}}}}
]
}
